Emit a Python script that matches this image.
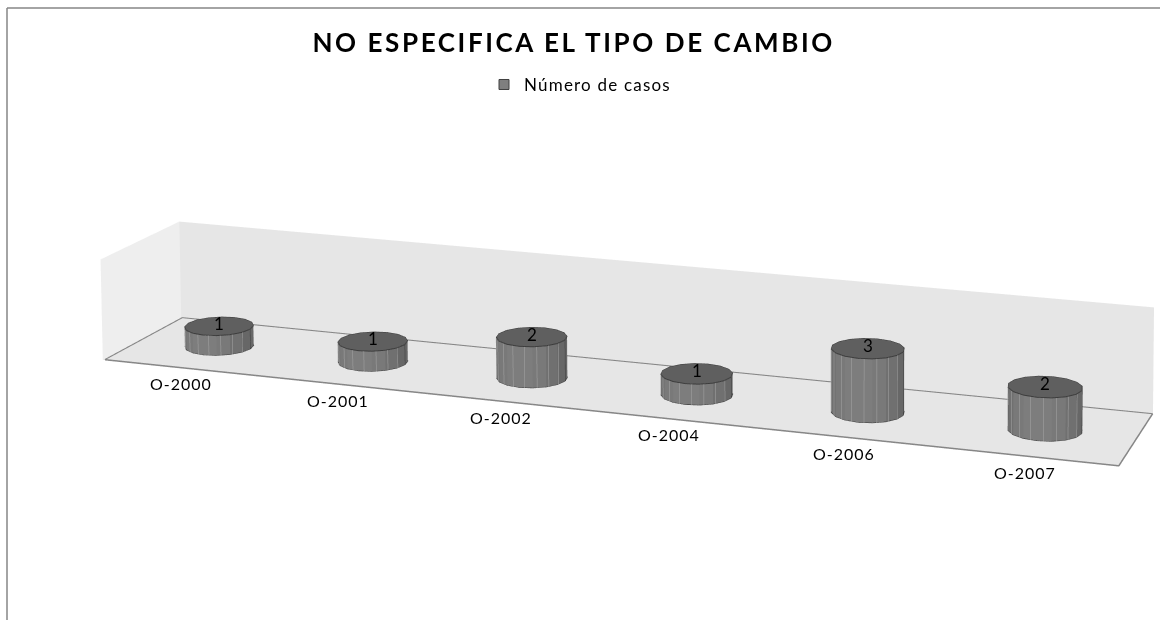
import numpy as np, plotly.graph_objects as go

categories = ["O-2000","O-2001","O-2002","O-2004","O-2006","O-2007"]
values = [1,1,2,1,3,2]
series_name = "Número de casos"
title_text = "NO ESPECIFICA EL TIPO DE CAMBIO"

W,H=1160,620
XR=(-0.5,5.5); YR=(0,1); ZR=(0,5)
# Projective view of the chart box (category, depth, value) -> page, as the reference is drawn
VIEW=np.array([[150.8161,86.80602,-0.5173696,181.411],
               [9.667523,-26.66419,-20.35164,367.7156],
               [-0.01753489,0.04890599,-0.000624413,1.0]])
EYE=2.5
Fp=H/2/np.tan(np.pi/8)
s=EYE/(VIEW[2]@np.array([2.5,.5,1,1]))
def sh(x,y,z):
    shape=np.broadcast(np.asarray(x),np.asarray(y),np.asarray(z)).shape
    x,y,z=[np.broadcast_to(np.asarray(a,float),shape) for a in (x,y,z)]
    q=np.stack([x,y,z,np.ones_like(x)],-1)
    D=s*(q@VIEW[2]);U=s*(q@VIEW[0]);V=s*(q@VIEW[1])
    return (U-W/2*D)/Fp, D-EYE, (H/2*D-V)/Fp

fig=go.Figure()
FLAT=dict(ambient=1,diffuse=0,specular=0,fresnel=0,roughness=1)
def quad(x,y,z,color):
    X,Y,Z=sh(x,y,z)
    fig.add_trace(go.Mesh3d(x=X,y=Y,z=Z,i=[0,0],j=[1,2],k=[2,3],color=color,flatshading=True,hoverinfo="skip",showlegend=False,lighting=FLAT))
def line(x,y,z,color,width):
    X,Y,Z=sh(x,y,z)
    fig.add_trace(go.Scatter3d(x=X,y=Y,z=Z,mode="lines",line=dict(color=color,width=width),hoverinfo="skip",showlegend=False))
x0,x1=XR;y0,y1=YR;z0,z1=ZR
E=.015
quad([x0-E,x1,x1,x0-E],[y0,y0,y1+E,y1+E],[-E]*4,"#e6e6e6")
quad([x0-E,x1,x1,x0-E],[y1+E]*4,[-E,-E,z1,z1],"#e6e6e6")
quad([x0-E]*4,[y0,y1+E,y1+E,y0],[-E,-E,z1,z1],"#eeeeee")
line([x0,x1,x1,x0,x0],[y0,y0,y1,y1,y0],[0]*5,"#868686",3)
n=16
RX,RY=.203,.21
th=np.arange(n)*2*np.pi/n
stripes=(np.arange(1,9))*np.pi/9+np.pi
for i,v in enumerate(values):
    cx=i+np.cos(th)*RX;cy=.5+np.sin(th)*RY
    xs,ys,zs=sh(np.r_[cx,cx],np.r_[cy,cy],np.r_[np.zeros(n),np.full(n,v)])
    I=[];J=[];K=[];fc=[]
    for a in range(n):
        b=(a+1)%n
        I+=[a,a];J+=[b,b+n];K+=[b+n,a+n]
        m=np.cos(th[a]+np.pi/n)
        g=int(126-24*abs(m)**3)
        fc+=[f"rgb({g},{g},{g})"]*2
    fig.add_trace(go.Mesh3d(x=xs,y=ys,z=zs,i=I,j=J,k=K,facecolor=fc,flatshading=True,hoverinfo="skip",showlegend=False,lighting=FLAT))
    for t in stripes:
        line([i+np.cos(t)*RX]*2,[.5+np.sin(t)*RY-.004]*2,[0,v],"#a6a6a6",1)
    for a in (0,n//2):
        line([cx[a]]*2,[cy[a]]*2,[0,v],"#3c3c3c",2)
    X,Y,Z=sh(cx,cy,np.full(n,v))
    fig.add_trace(go.Mesh3d(x=X,y=Y,z=Z,i=[0]*(n-2),j=list(range(1,n-1)),k=list(range(2,n)),color="#5f5f5f",flatshading=True,hoverinfo="skip",showlegend=False,lighting=FLAT))
    line(np.r_[cx,cx[0]],np.r_[cy,cy[0]],np.full(n+1,v),"#3c3c3c",2)
    line(np.r_[cx,cx[0]],np.r_[cy,cy[0]],np.zeros(n+1),"#3c3c3c",2)
fig.add_trace(go.Scatter3d(x=[None],y=[None],z=[None],mode="markers",name=series_name,showlegend=True,hoverinfo="skip",
    marker=dict(symbol="square",size=10,color="#7f7f7f",line=dict(color="#404040",width=1))))
ann=[]
for i,(c,v) in enumerate(zip(categories,values)):
    X,Y,Z=sh(i,.5,v)
    ann.append(dict(x=float(X),y=float(Y),z=float(Z),text=str(v),showarrow=False,yshift=3,font=dict(family="Lato",size=17,color="#000")))
    X,Y,Z=sh(i,0,0)
    ann.append(dict(x=float(X),y=float(Y),z=float(Z),text=c,showarrow=False,yshift=-16,font=dict(family="Lato",size=16,color="#000")))
off=dict(visible=False)
fig.update_layout(width=W,height=H,margin=dict(l=0,r=0,t=0,b=0),paper_bgcolor="#fff",
    title=dict(text=title_text,x=.4945,xanchor="center",y=.931,yanchor="middle",font=dict(family="Lato",size=26,color="#000",weight="bold")),
    showlegend=True,legend=dict(x=484/W,xanchor="left",y=.863,yanchor="middle",font=dict(family="Lato",size=17,color="#000"),bgcolor="rgba(0,0,0,0)"),
    scene=dict(domain=dict(x=[0,1],y=[0,1]),aspectmode="manual",aspectratio=dict(x=8,y=8,z=8),camera=dict(eye=dict(x=0,y=-EYE,z=0),center=dict(x=0,y=0,z=0),up=dict(x=0,y=0,z=1),projection=dict(type="perspective")),
        xaxis=dict(range=[-4,4],**off),yaxis=dict(range=[-4,4],**off),zaxis=dict(range=[-4,4],**off),annotations=ann),
    shapes=[dict(type="line",xref="paper",yref="paper",x0=7/W,x1=1,y0=1-8/H,y1=1-8/H,line=dict(color="#868686",width=1.5)),
            dict(type="line",xref="paper",yref="paper",x0=7/W,x1=7/W,y0=0,y1=1-8/H,line=dict(color="#868686",width=1.5))])
post="""document.body.style.margin='0';
function sp(){document.querySelectorAll('.gtitle').forEach(e=>e.style.letterSpacing='2.6px');
document.querySelectorAll('.legendtext').forEach(e=>e.style.letterSpacing='1.2px');
document.querySelectorAll('.legend .scrollbox').forEach(e=>{e.removeAttribute('clip-path');e.style.clipPath='none';});
document.querySelectorAll('.annotation-text').forEach(e=>{if(e.textContent.length>1)e.style.letterSpacing='1px';});}
sp();setTimeout(sp,100);setTimeout(sp,500);"""
fig.write_html("out.html",post_script=post,config={"displayModeBar":False})
